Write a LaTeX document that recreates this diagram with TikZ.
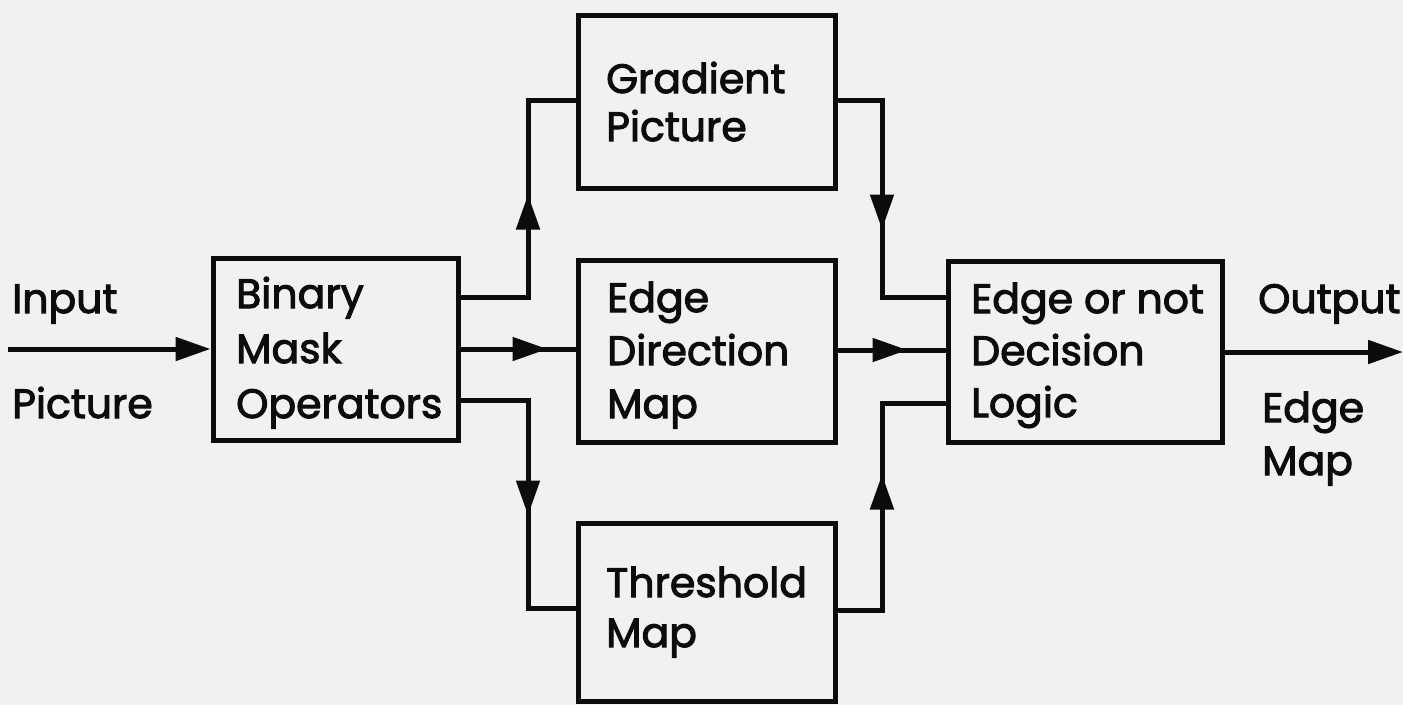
\documentclass[tikz,border=0pt]{standalone}
\usepackage{fontspec}
\setmainfont{Poppins}[FakeBold=2.5]
\usetikzlibrary{arrows.meta,decorations.markings}
\definecolor{paper}{RGB}{241,241,239}
\definecolor{ink}{RGB}{12,12,12}
\newcommand{\letters}[1]{\fontsize{41}{#1}\selectfont}
\tikzset{
  wire/.style={draw=ink,line width=5pt,line join=miter},
  box/.style={draw=ink,line width=5pt,rectangle,inner sep=0pt},
  % the base anchor of a multi-line caption sits on its last line
  words/.style={text=ink,inner sep=0pt,anchor=base west,align=left,font=\letters{#1}},
  words/.default=53pt,
  head/.tip={Triangle[length=35pt,width=23pt]},
  midarrow/.style={postaction={decorate},decoration={markings,mark=at position #1 with {\arrow{head}}}}
}
\begin{document}
\begin{tikzpicture}[x=1pt,y=-1pt]
  \fill[paper] (0,0) rectangle (1403,705);
  \useasboundingbox (0,0) rectangle (1403,705);

  % processing blocks
  \node[box,minimum width=245pt,minimum height=182pt] (bin) at (335.5,349) {};
  \node[box,minimum width=257pt,minimum height=173pt] (grad) at (706.5,101.5) {};
  \node[box,minimum width=257pt,minimum height=182pt] (edir) at (706.5,351) {};
  \node[box,minimum width=257pt,minimum height=178pt] (thr) at (706.5,612) {};
  \node[box,minimum width=274pt,minimum height=181pt] (dec) at (1085,351.5) {};

  % block captions
  \node[words=55pt] (binT) at (236,418) {Binary\\Mask\\Operators};
  \node[words=48pt] (gradT) at (606,141) {Gradient\\Picture};
  \node[words=53pt] (edirT) at (607,418) {Edge\\Direction\\Map};
  \node[words=50pt] (thrT) at (606,647) {Threshold\\Map};
  \node[words=52pt] (decT) at (971,417) {Edge or not\\Decision\\Logic};

  % input and output labels
  \node[words] (in1) at (12,313) {Input};
  \node[words] (in2) at (12,418) {Picture};
  \node[words] (out1) at (1258,313) {Output};
  \node[words=53pt] (out2) at (1262,475) {Edge\\Map};
  \coordinate (src) at (8,349);
  \coordinate (sink) at (1403,352);

  % connectors
  \draw[wire,-{head}] (src) -- (bin.west |- src);
  \draw[wire,midarrow=170pt] (bin.east |- 0,297) -- (528,297) -- (528,100) -- (grad.west |- 0,100);
  \draw[wire,midarrow=87pt] (bin.east |- 0,349) -- (edir.west |- 0,349);
  \draw[wire,midarrow=183pt] (bin.east |- 0,400) -- (528,400) -- (528,608) -- (thr.west |- 0,608);
  \draw[wire,midarrow=174pt] (grad.east |- 0,100) -- (882,100) -- (882,297) -- (dec.west |- 0,297);
  \draw[wire,midarrow=70pt] (edir.east |- 0,350) -- (dec.west |- 0,350);
  \draw[wire,midarrow=180pt] (thr.east |- 0,610) -- (882,610) -- (882,403) -- (dec.west |- 0,403);
  \draw[wire,-{head}] (dec.east |- sink) -- (sink);
\end{tikzpicture}
\end{document}
